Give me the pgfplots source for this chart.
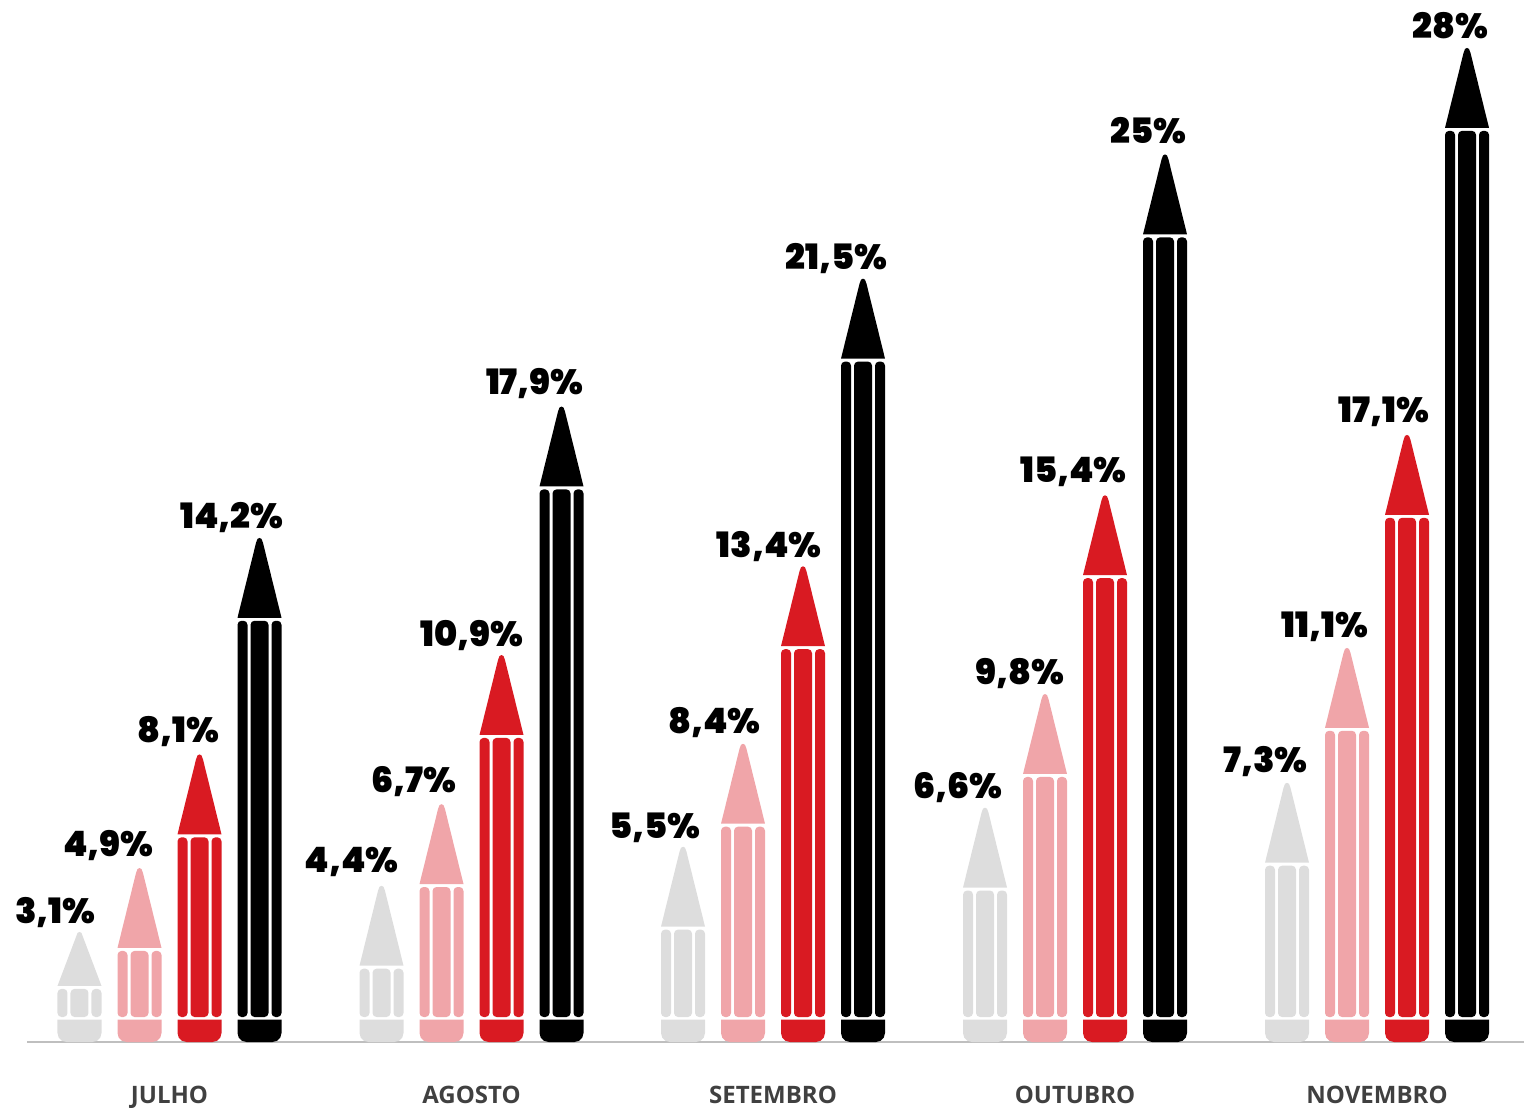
\documentclass[border=0pt]{standalone}
\usepackage{fontspec}
\usepackage{pgfplots}
\pgfplotsset{compat=1.18}
\setmainfont{Open Sans}
\IfFontExistsTF{Poppins Black}{\newfontfamily\valuefont{Poppins Black}}{%
  \newfontfamily\valuefont{Poppins}[UprightFont=*-Bold,FakeBold=1.2]}
\definecolor{penGrey}{HTML}{DDDDDD}
\definecolor{penPink}{HTML}{F0A5A9}
\definecolor{penRed}{HTML}{D91A22}
\definecolor{penBlack}{HTML}{000000}
\definecolor{baseline}{HTML}{BFBFBF}
\definecolor{catText}{HTML}{404040}

% One pencil: #1 centre x, #2 value (tip height), #3 colour, #4 label,
% #5 label right edge relative to the centre, #6 length of the point in value units,
% #7 raise of the label above its usual place, in units of half a point
\newcommand\pencil[7]{%
  \pgfmathsetmacro\pu{1/35.5}%
  \pgfmathsetmacro\base{#2-#6}%
  \pgfmathsetmacro\segtop{\base-3*\pu}%
  \pgfmathsetmacro\segbot{25*\pu}%
  \pgfmathsetmacro\erstop{22.5*\pu}%
  \pgfmathsetmacro\xa{#1-22}\pgfmathsetmacro\xb{#1+22}%
  \pgfmathsetmacro\la{#1-22}\pgfmathsetmacro\lb{#1-12}%
  \pgfmathsetmacro\ma{#1-9}\pgfmathsetmacro\mb{#1+9}%
  \pgfmathsetmacro\ra{#1+12}\pgfmathsetmacro\rb{#1+22}%
  \pgfmathsetmacro\lab{#1+#5+1.5}%
  \pgfmathsetmacro\lift{5+0.5*#7}%
  % point of the pencil, slightly blunted
  \pgfmathsetmacro\ta{#2-5*\pu}\pgfmathsetmacro\tb{#2-1*\pu}%
  \pgfmathsetmacro\pa{#1-3.5}\pgfmathsetmacro\pb{#1-2}\pgfmathsetmacro\pc{#1+2}\pgfmathsetmacro\pd{#1+3.5}%
  % bottom corners of the eraser
  \pgfmathsetmacro\ea{#1-20.8}\pgfmathsetmacro\eb{#1-17.5}\pgfmathsetmacro\ec{#1-13}%
  \pgfmathsetmacro\ed{#1+13}\pgfmathsetmacro\ee{#1+17.5}\pgfmathsetmacro\ef{#1+20.8}%
  \pgfmathsetmacro\ya{9*\pu}\pgfmathsetmacro\yb{4.5*\pu}\pgfmathsetmacro\yc{1.2*\pu}%
  \edef\doit{%
    \noexpand\addplot[fill=#3,draw=none] coordinates {(\xa,\base)(\pa,\ta)(\pb,\tb)(#1,#2)(\pc,\tb)(\pd,\ta)(\xb,\base)};%
    \noexpand\addplot[fill=#3,draw=none,rounded corners=2pt] coordinates {(\la,\segbot)(\la,\segtop)(\lb,\segtop)(\lb,\segbot)} -- cycle;%
    \noexpand\addplot[fill=#3,draw=none,rounded corners=2pt] coordinates {(\ma,\segbot)(\ma,\segtop)(\mb,\segtop)(\mb,\segbot)} -- cycle;%
    \noexpand\addplot[fill=#3,draw=none,rounded corners=2pt] coordinates {(\ra,\segbot)(\ra,\segtop)(\rb,\segtop)(\rb,\segbot)} -- cycle;%
    \noexpand\addplot[fill=#3,draw=none] coordinates {(\xa,\erstop)(\xb,\erstop)(\xb,\ya)(\ef,\yb)(\ee,\yc)(\ed,0)(\ec,0)(\eb,\yc)(\ea,\yb)(\xa,\ya)};%
    \noexpand\node[anchor=base east,inner sep=0pt,yshift=\lift pt,font=\noexpand\valuefont\noexpand\fontsize{17.5}{20}\noexpand\selectfont,text=black] at (axis cs:\lab,#2) {#4};%
  }\doit
}

\begin{document}
\begin{tikzpicture}[x=1pt,y=1pt]
\path[use as bounding box] (0,0) rectangle (762,553.5);
\begin{axis}[
  at={(13.75pt,32.5pt)},anchor=origin,
  scale only axis,width=748.25pt,height=521pt,
  xmin=28,xmax=1524.5,ymin=0,ymax=29.352,
  axis x line*=bottom,axis y line=none,
  x axis line style={draw=baseline,line width=0.75pt,-},
  xtick={170,472,773.5,1075.5,1377.5},
  xticklabels={JULHO,AGOSTO,SETEMBRO,OUTUBRO,NOVEMBRO},
  major tick length=0pt,
  xticklabel style={font=\bfseries\fontsize{12}{14}\selectfont,text=catText,anchor=base,inner sep=0pt,yshift=-30.5pt},
  clip=false,
]
\pencil{80}{3.1}{penGrey}{3,1\%}{15}{1.52}{-2}
\pencil{140}{4.9}{penPink}{4,9\%}{13}{2.25}{2}
\pencil{200}{8.1}{penRed}{8,1\%}{19}{2.25}{2}
\pencil{260}{14.2}{penBlack}{14,2\%}{23}{2.25}{-1}

\pencil{382}{4.4}{penGrey}{4,4\%}{16}{2.25}{3}
\pencil{442}{6.7}{penPink}{6,7\%}{14}{2.25}{2}
\pencil{502}{10.9}{penRed}{10,9\%}{21}{2.25}{-1}
\pencil{562}{17.9}{penBlack}{17,9\%}{21}{2.25}{2}

\pencil{683.5}{5.5}{penGrey}{5,5\%}{16.5}{2.25}{-2}
\pencil{743.5}{8.4}{penPink}{8,4\%}{16.5}{2.25}{0}
\pencil{803.5}{13.4}{penRed}{13,4\%}{17.5}{2.25}{-1}
\pencil{863.5}{21.5}{penBlack}{21,5\%}{23.5}{2.25}{-1}

\pencil{985.5}{6.6}{penGrey}{6,6\%}{16.5}{2.25}{-1}
\pencil{1045.5}{9.8}{penPink}{9,8\%}{18.5}{2.25}{0}
\pencil{1105.5}{15.4}{penRed}{15,4\%}{20.5}{2.25}{3}
\pencil{1165.5}{25}{penBlack}{25\%}{20.5}{2.25}{1}

\pencil{1287.5}{7.3}{penGrey}{7,3\%}{19.5}{2.25}{0}
\pencil{1347.5}{11.1}{penPink}{11,1\%}{20.5}{2.25}{0}
\pencil{1407.5}{17.1}{penRed}{17,1\%}{21.5}{2.25}{2}
\pencil{1467.5}{28}{penBlack}{28\%}{20.5}{2.25}{-1}
\end{axis}
\end{tikzpicture}
\end{document}
